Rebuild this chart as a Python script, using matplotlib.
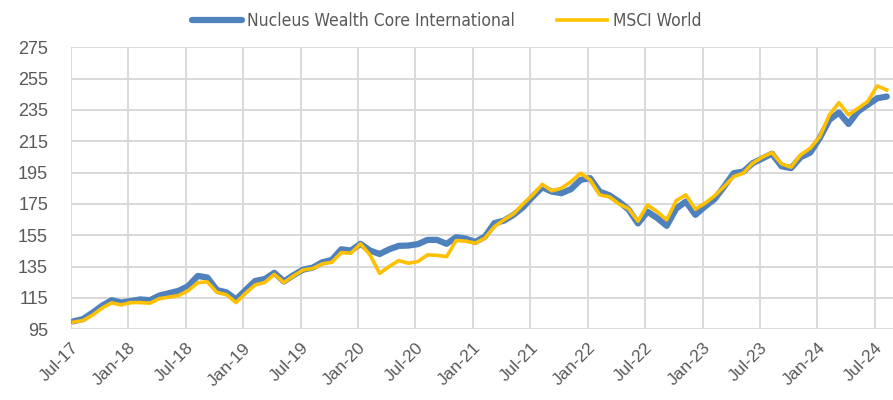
import numpy as np
import matplotlib.pyplot as plt
from matplotlib import font_manager

# monthly index levels, Jul-17 .. Aug-24
nucleus = [100, 101.5, 105.5, 110, 113.5, 112, 113, 114, 113.5, 116.5, 118, 119.5,
           122.5, 129, 128, 120, 118.5, 114, 120, 125.8, 127, 131, 125.5, 129.5,
           133, 134.3, 137.7, 139.2, 146, 145.2, 149.5, 145.2, 143, 146, 148.2, 148.4,
           149.3, 152, 152, 149.5, 153.7, 152.8, 150.7, 154.1, 162.7, 164.3, 168, 172.9,
           179.6, 185.6, 182.8, 181.8, 184.4, 190.3, 191.4, 182.8, 180.5, 176.5, 171.5, 162.5,
           170, 166, 161, 172, 176.5, 168, 173.3, 178, 186, 194.6, 195.6, 201,
           204, 207, 199, 197.8, 204.8, 207.7, 217, 228.6, 233.3, 226, 234, 238.2,
           242.4, 243.5]
msci = [99.5, 100.5, 104, 108.5, 111.8, 110.5, 112, 112, 111.6, 114.5, 115.5, 116.5,
        119.6, 124.7, 125.2, 118.5, 117, 112, 118, 123.3, 124.8, 130, 124.8, 129,
        132.8, 133.7, 136.7, 137.7, 143.9, 143.5, 149.5, 142.4, 130.7, 135, 138.8, 137.1,
        138.2, 142.4, 142.2, 141.3, 151.6, 151.2, 149.9, 153.1, 160.5, 164.8, 168.6, 175,
        180.7, 187.5, 183.3, 185, 189.2, 194.6, 190.3, 180.7, 179.5, 175, 172, 164,
        174.3, 170.1, 164.8, 177.1, 180.7, 171.6, 175.4, 180.1, 186, 192.4, 194.6, 201,
        204.8, 207.7, 200.5, 198.4, 206.3, 210.5, 217.9, 231.8, 239.6, 231.8, 236, 240.3,
        250.3, 247.7]
xlabels = ["Jul-17", "Jan-18", "Jul-18", "Jan-19", "Jul-19", "Jan-20", "Jul-20", "Jan-21",
           "Jul-21", "Jan-22", "Jul-22", "Jan-23", "Jul-23", "Jan-24", "Jul-24"]
yticks = list(range(95, 276, 20))

# narrow font for the legend if there is one
names = set(f.name for f in font_manager.fontManager.ttflist)
stretches = set((f.name, f.stretch) for f in font_manager.fontManager.ttflist)
if 'Liberation Sans Narrow' in names:
    leg_font = dict(family='Liberation Sans Narrow', size=15)
elif ('DejaVu Sans', 'condensed') in stretches or ('DejaVu Sans', 'semi-condensed') in stretches:
    leg_font = dict(family='DejaVu Sans', stretch='condensed', size=12.5)
else:
    leg_font = dict(family='Liberation Sans', size=12.5)

plt.rcParams['font.family'] = ['Liberation Sans', 'DejaVu Sans']

fig = plt.figure(figsize=(8.93, 4.0), dpi=100)
ax = fig.add_axes([0.0795, 0.177, 0.9205, 0.705])

x = np.arange(len(nucleus)) + 0.25
ax.plot(x, nucleus, color='#4F81BD', lw=4.5, solid_capstyle='round',
        label='Nucleus Wealth Core International', zorder=3)
ax.plot(x, msci, color='#FFC000', lw=2.6, label='MSCI World', zorder=4)

ax.set_xlim(0, 85.9)
ax.set_ylim(95, 275)
ax.set_xticks(np.arange(len(xlabels)) * 6)
ax.set_xticklabels(xlabels, rotation=45, ha='right', va='top', rotation_mode='anchor',
                   fontsize=12.5, color='#595959')
ax.set_yticks(yticks)
ax.set_yticklabels([str(v) for v in yticks], fontsize=13, color='#595959')
ax.tick_params(axis='y', length=0, pad=16.5)
ax.tick_params(axis='x', length=0, pad=8)
ax.grid(True, color='#D9D9D9', lw=1.4)
ax.set_axisbelow(True)
for s in ax.spines.values():
    s.set_visible(False)

fig.legend(loc='upper center', bbox_to_anchor=(0.5, 1.01), ncol=2, frameon=False,
           prop=leg_font, handlelength=2.9, columnspacing=2.4, handletextpad=0.3,
           labelcolor='#595959')

fig.savefig('out.png', dpi=100)
